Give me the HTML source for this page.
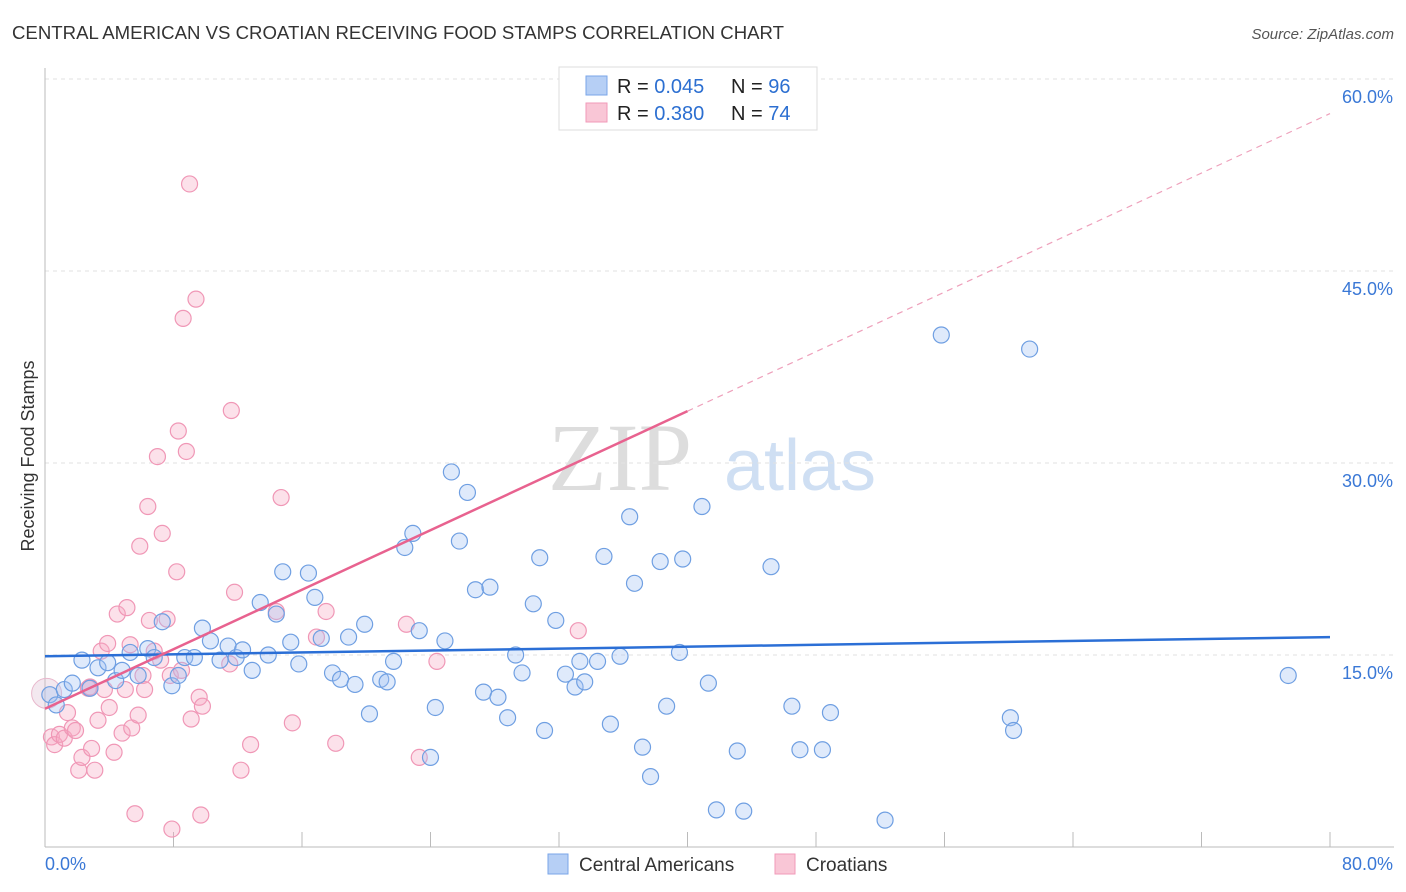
<!DOCTYPE html>
<html><head><meta charset="utf-8"><style>
body{margin:0;background:#fff;font-family:"Liberation Sans",sans-serif}
svg{display:block}
</style></head><body>
<svg id="chart" width="1406" height="892" font-family="Liberation Sans, sans-serif">
<text x="12" y="39" font-size="18" fill="#333" textLength="772" lengthAdjust="spacingAndGlyphs">CENTRAL AMERICAN VS CROATIAN RECEIVING FOOD STAMPS CORRELATION CHART</text>
<text x="1394" y="39" font-size="15" fill="#555" font-style="italic" text-anchor="end">Source: ZipAtlas.com</text>
<text transform="translate(34,456) rotate(-90)" font-size="18" fill="#333" text-anchor="middle">Receiving Food Stamps</text>
<text x="620" y="490" font-size="96" fill="#ddd" font-family="Liberation Serif, serif" text-anchor="middle">ZIP</text>
<text x="800" y="490" font-size="72" fill="#cfdff3" text-anchor="middle">atlas</text>
<g id="grid"></g><g id="axes"></g><g id="pts"></g><g id="lines"></g>
<g>
<rect x="559" y="67" width="258" height="63" fill="#fff" stroke="#ddd"/>
<rect x="586" y="76" width="21" height="19" fill="#b6cff5" stroke="#7aa6e8"/>
<rect x="586" y="103" width="21" height="19" fill="#f9c6d6" stroke="#f19ab8"/>
<text x="617" y="93" font-size="20" fill="#222">R = <tspan fill="#2c6fd1">0.045</tspan></text>
<text x="731" y="93" font-size="20" fill="#222">N = <tspan fill="#2c6fd1">96</tspan></text>
<text x="617" y="120" font-size="20" fill="#222">R = <tspan fill="#2c6fd1">0.380</tspan></text>
<text x="731" y="120" font-size="20" fill="#222">N = <tspan fill="#2c6fd1">74</tspan></text>
</g>
<g>
<rect x="548" y="854" width="20" height="20" fill="#b6cff5" stroke="#7aa6e8"/>
<text x="579" y="871" font-size="19" fill="#333">Central Americans</text>
<rect x="775" y="854" width="20" height="20" fill="#f9c6d6" stroke="#f19ab8"/>
<text x="806" y="871" font-size="19" fill="#333">Croatians</text>
</g>
</svg>
<script>
const blueX=[0.3,0.7,1.2,1.7,2.3,2.8,3.3,3.9,4.4,4.8,5.3,5.8,6.4,6.8,7.3,7.9,8.3,8.7,9.3,9.8,10.3,10.9,11.4,11.9,12.3,12.9,13.4,13.9,14.4,14.8,15.3,15.8,16.4,16.8,17.2,17.9,18.4,18.9,19.3,19.9,20.2,20.9,21.3,21.7,22.4,22.9,23.3,24.0,24.3,24.9,25.3,25.8,26.3,26.8,27.3,27.7,28.2,28.8,29.3,29.7,30.4,30.8,31.1,31.8,32.4,33.0,33.3,33.6,34.4,34.8,35.2,35.8,36.4,36.7,37.2,37.7,38.3,38.7,39.5,39.7,40.9,41.3,41.8,43.1,43.5,45.2,46.5,47.0,48.4,48.9,52.3,55.8,60.1,60.3,61.3,77.4];
const blueY=[11.9,11.1,12.3,12.8,14.6,12.4,14.0,14.4,13.0,13.8,15.2,13.4,15.5,14.8,17.6,12.6,13.4,14.8,14.8,17.1,16.1,14.6,15.7,14.8,15.4,13.8,19.1,15.0,18.2,21.5,16.0,14.3,21.4,19.5,16.3,13.6,13.1,16.4,12.7,17.4,10.4,13.1,12.9,14.5,23.4,24.5,16.9,7.0,10.9,16.1,29.3,23.9,27.7,20.1,12.1,20.3,11.7,10.1,15.0,13.6,19.0,22.6,9.1,17.7,13.5,12.5,14.5,12.9,14.5,22.7,9.6,14.9,25.8,20.6,7.8,5.5,22.3,11.0,15.2,22.5,26.6,12.8,2.9,7.5,2.8,21.9,11.0,7.6,7.6,10.5,2.1,40.0,10.1,9.1,38.9,13.4];
const pinkX=[0.4,0.6,0.9,1.2,1.4,1.7,1.9,2.1,2.3,2.7,2.8,2.9,3.1,3.3,3.5,3.7,3.9,4.0,4.3,4.5,4.8,5.0,5.1,5.3,5.4,5.6,5.8,5.9,6.1,6.2,6.4,6.5,6.8,7.0,7.2,7.3,7.6,7.8,7.9,8.2,8.3,8.5,8.6,8.8,9.0,9.1,9.4,9.6,9.7,9.8,11.5,11.6,11.8,12.2,12.8,14.4,14.7,15.4,16.9,17.5,18.1,22.5,23.3,24.4,33.2];
const pinkY=[8.6,8.0,8.8,8.5,10.5,9.3,9.1,6.0,7.0,12.4,12.5,7.7,6.0,9.9,15.3,12.3,15.9,10.9,7.4,18.2,8.9,12.3,18.7,15.8,9.3,2.6,10.3,23.5,13.4,12.3,26.6,17.7,15.3,30.5,14.6,24.5,17.8,13.4,1.4,21.5,32.5,13.8,41.3,30.9,51.8,10.0,42.8,11.7,2.5,11.0,14.3,34.1,19.9,6.0,8.0,18.4,27.3,9.7,16.4,18.4,8.1,17.4,7.0,14.5,16.9];
const bigX=[0.1];
const bigY=[12.0];
const blueTrend=[14.9,16.4];
const pinkTrend=[10.8,57.3];
const yTicks=[15,30,45,60];
const xTicks=[0,8,16,24,32,40,48,56,64,72,80];
const sx=v=>45+v*16.0625, sy=v=>847-v*12.8;
const NS='http://www.w3.org/2000/svg';
function mk(tag,attrs,parent){const e=document.createElementNS(NS,tag);for(const k in attrs)e.setAttribute(k,attrs[k]);document.getElementById(parent).appendChild(e);return e;}
yTicks.forEach(t=>{
 const l=mk('line',{x1:45,x2:1394,y1:sy(t),y2:sy(t),stroke:'#e2e2e2','stroke-dasharray':'4,4'},'grid');
 
 
 const tx=mk('text',{x:1393,y:sy(t)+24,'font-size':18,fill:'#3a78d6','text-anchor':'end'},'grid');
 tx.textContent=t.toFixed(1)+'%';
 
 
});
const ax=mk('line',{x1:45,x2:45,y1:68,y2:847,stroke:'#bbb'},'axes');


const bx=mk('line',{x1:45,x2:1394,y1:847,y2:847,stroke:'#bbb'},'axes');


xTicks.forEach(t=>{
 const l=mk('line',{x1:sx(t),x2:sx(t),y1:832,y2:847,stroke:'#bbb'},'axes');
 
 
});
const xl0=mk('text',{x:45,y:870,'font-size':18,fill:'#3a78d6'},'axes');xl0.textContent='0.0%';


const xl1=mk('text',{x:1393,y:870,'font-size':18,fill:'#3a78d6','text-anchor':'end'},'axes');xl1.textContent='80.0%';


bigX.forEach((x,i)=>{
 const c=mk('circle',{cx:sx(x),cy:sy(bigY[i]),r:15,fill:'rgba(220,190,210,0.35)',stroke:'#e8b8cc','stroke-width':1},'pts');
 
 
});
pinkX.forEach((x,i)=>{
 const c=mk('circle',{cx:sx(x),cy:sy(pinkY[i]),r:8,fill:'rgba(246,170,196,0.35)',stroke:'#f097b6','stroke-width':1.2},'pts');
 
 
});
blueX.forEach((x,i)=>{
 const c=mk('circle',{cx:sx(x),cy:sy(blueY[i]),r:8,fill:'rgba(164,196,244,0.35)',stroke:'#6f9fe2','stroke-width':1.2},'pts');
 
 
});
const bl=mk('line',{x1:sx(0),y1:sy(blueTrend[0]),x2:sx(80),y2:sy(blueTrend[1]),stroke:'#2b6fd6','stroke-width':2.5},'lines');


const pAt=x=>pinkTrend[0]+(pinkTrend[1]-pinkTrend[0])*x/80;
const pl=mk('line',{x1:sx(0),y1:sy(pAt(0)),x2:sx(40),y2:sy(pAt(40)),stroke:'#e8628f','stroke-width':2.5},'lines');


const pd=mk('line',{x1:sx(40),y1:sy(pAt(40)),x2:sx(80),y2:sy(pAt(80)),stroke:'#eea0bb','stroke-width':1.2,'stroke-dasharray':'6,5'},'lines');


</script>
</body></html>
